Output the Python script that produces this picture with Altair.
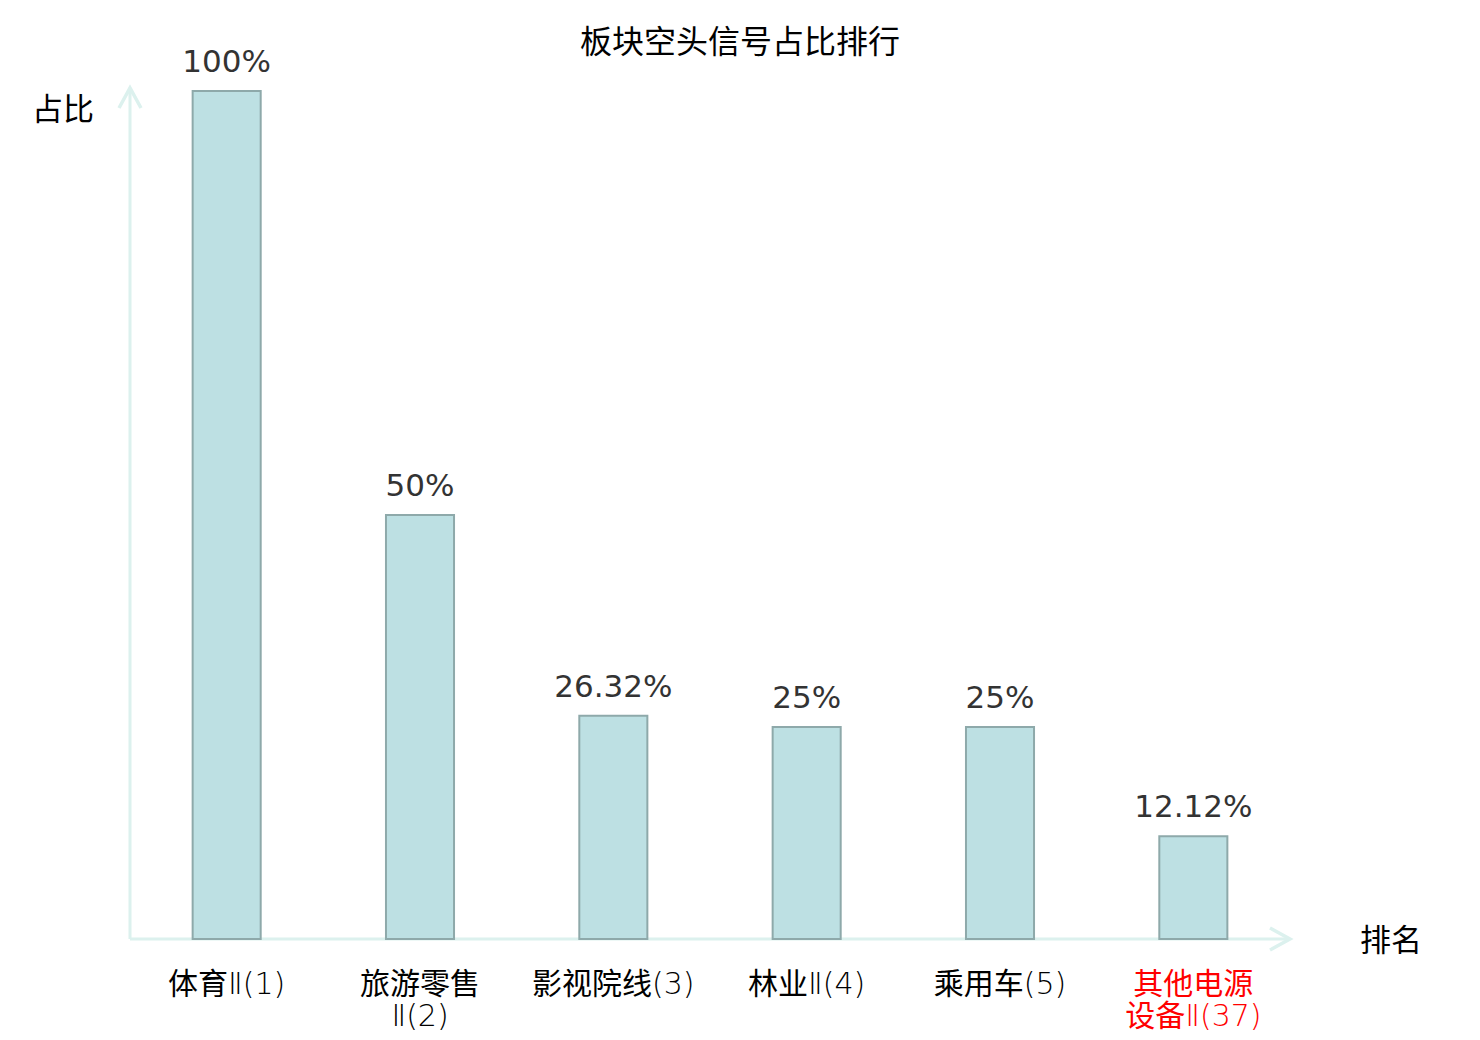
import altair as alt
import pandas as pd

categories = ["体育Ⅱ(1)", "旅游零售Ⅱ(2)", "影视院线(3)", "林业Ⅱ(4)", "乘用车(5)", "其他电源设备Ⅱ(37)"]
tick_labels = ["体育Ⅱ(1)", "旅游零售|Ⅱ(2)", "影视院线(3)", "林业Ⅱ(4)", "乘用车(5)", "其他电源|设备Ⅱ(37)"]
values = [1.0, 0.5, 0.2632, 0.25, 0.25, 0.1212]
highlight = "其他电源设备Ⅱ(37)"
chart_title = "板块空头信号占比排行"
y_title = "占比"
x_title = "排名"

df = pd.DataFrame({"cat": categories, "tick": tick_labels, "v": values})
label_map = {c: t for c, t in zip(categories, tick_labels)}
label_expr = "{" + ",".join(f"'{c}':'{t}'" for c, t in label_map.items()) + "}"

W, H = 1160, 848
CJK = "Noto Sans CJK SC"
LATIN = "DejaVu Sans"
LABEL_FONT = "DejaVu Sans ExtraLight, DejaVu Sans Light, Noto Sans CJK SC"
AXIS_COLOR = "#dcf1ee"

xenc = alt.X(
    "cat:N",
    sort=categories,
    scale=alt.Scale(paddingInner=0.648, paddingOuter=0.324),
    axis=alt.Axis(
        title=None, domain=False, ticks=False, grid=False,
        labelFont=LABEL_FONT, labelFontSize=30, labelAngle=0,
        labelPadding=30, labelLineHeight=32, labelBaseline="top",
        labelExpr="split(" + label_expr + "[datum.value], '|')",
        labelColor={"condition": {"test": f"datum.value == '{highlight}'", "value": "#ff0000"}, "value": "#000000"},
    ),
)
yenc = alt.Y("v:Q", scale=alt.Scale(domain=[0, 1], nice=False, zero=True), axis=None)

base = alt.Chart(df)

bars = base.mark_bar(fill="#bde0e3", stroke="#8ea9aa", strokeWidth=2).encode(x=xenc, y=yenc)

vlabels = base.mark_text(font=LATIN, fontSize=31, color="#333333", baseline="middle", dy=-28).encode(
    x=alt.X("cat:N", sort=categories), y=yenc, text=alt.Text("v:Q", format=".2~%")
)

one = pd.DataFrame({"a": [0]})
yaxis_line = alt.Chart(one).mark_rule(color=AXIS_COLOR, strokeWidth=3).encode(
    x=alt.value(0), y=alt.value(H), y2=alt.value(-2)
)
xaxis_line = alt.Chart(one).mark_rule(color=AXIS_COLOR, strokeWidth=3).encode(
    x=alt.value(0), x2=alt.value(W), y=alt.value(H)
)
yarrow = alt.Chart(one).mark_point(
    shape="M-0.55,1L0,0L0.55,1", filled=False, color=AXIS_COLOR, strokeWidth=3.5, size=1600, opacity=1
).encode(x=alt.value(0), y=alt.value(-3))
xarrow = alt.Chart(one).mark_point(
    shape="M-1,-0.55L0,0L-1,0.55", filled=False, color=AXIS_COLOR, strokeWidth=3.5, size=1600, opacity=1
).encode(x=alt.value(W), y=alt.value(H))

ytitle = alt.Chart(pd.DataFrame({"t": [y_title]})).mark_text(
    font=CJK, fontSize=31, color="#000000", baseline="middle", align="center"
).encode(x=alt.value(-67), y=alt.value(20), text="t:N")
xtitle = alt.Chart(pd.DataFrame({"t": [x_title]})).mark_text(
    font=CJK, fontSize=31, color="#000000", baseline="middle", align="center"
).encode(x=alt.value(1261), y=alt.value(851), text="t:N")
title = alt.Chart(pd.DataFrame({"t": [chart_title]})).mark_text(
    font=CJK, fontSize=32, color="#000000", baseline="middle", align="center"
).encode(x=alt.value(610), y=alt.value(-48), text="t:N")

chart = alt.layer(
    yaxis_line, xaxis_line, yarrow, xarrow, bars, vlabels, ytitle, xtitle, title
).properties(
    width=W,
    height=H,
    autosize=alt.AutoSizeParams(type="none"),
    padding={"left": 122, "top": 83, "right": 182, "bottom": 93},
).configure_view(stroke=None)

chart.save("out.html", embed_options={"renderer": "svg", "actions": False})
